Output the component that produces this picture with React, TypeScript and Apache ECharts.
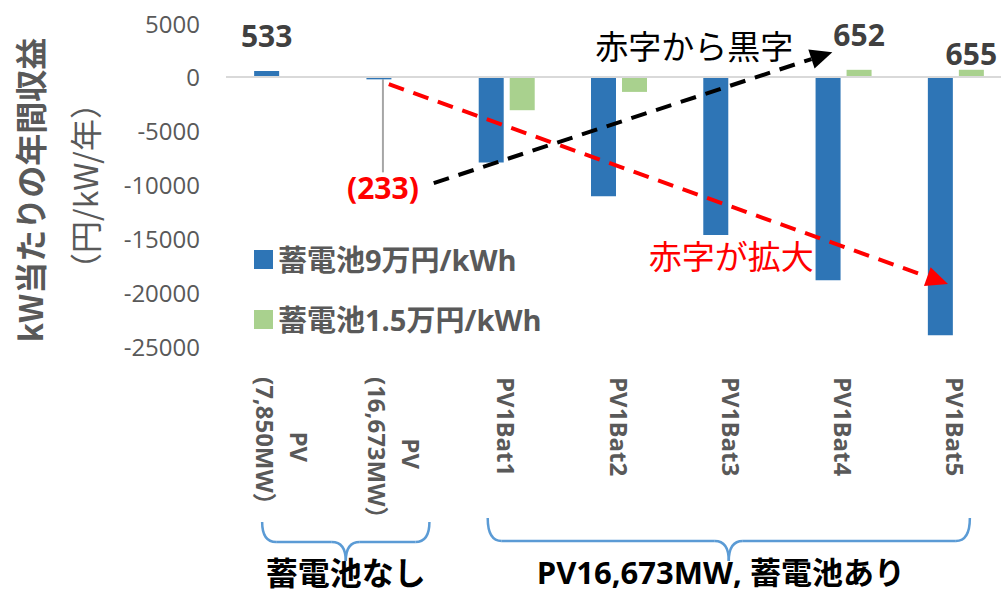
import React, { useEffect, useRef } from "react";
import * as echarts from "echarts";

// Scenario names along the category axis
const categories = [
  "PV\n(7,850MW）",
  "PV\n(16,673MW）",
  "PV1Bat1",
  "PV1Bat2",
  "PV1Bat3",
  "PV1Bat4",
  "PV1Bat5",
];
// Annual profit per kW (yen/kW/year)
const battery90k: (number | null)[] = [533, -233, -7950, -11100, -14700, -18900, -24000];
const battery15k: (number | null)[] = [null, null, -3100, -1400, 0, 652, 655];
const seriesNames = ["蓄電池9万円/kWh", "蓄電池1.5万円/kWh"];

const yMin = -25000;
const yMax = 5000;
const yStep = 5000;

const yTitleLines = ["kW当たりの年間収益", "（円/kW/年）"];
const groupTitles = ["蓄電池なし", "PV16,673MW, 蓄電池あり"];
const noteImprove = "赤字から黒字";
const noteWorsen = "赤字が拡大";

// Annotation anchors in data space: [category position, value]
const improveArrow = { from: [1.35, -9870], to: [4.9, 2290] };
const worsenArrow = { from: [0.95, -680], to: [5.93, -19250] };
const improveTextAt = [3.67, 2950];
const worsenTextAt = [4.0, -16550];

const FONT = "'Open Sans', 'Noto Sans CJK JP', sans-serif";
const CJK = "'Noto Sans CJK JP', 'Open Sans', sans-serif";
const BLUE = "#2E75B6";
const GREEN = "#A9D18E";
const GREY = "#595959";
const BRACE = "#5B9BD5";

function arrow(x1: number, y1: number, x2: number, y2: number, color: string, len: number, half: number) {
  const dx = x2 - x1;
  const dy = y2 - y1;
  const d = Math.hypot(dx, dy);
  const ux = dx / d;
  const uy = dy / d;
  const bx = x2 - ux * len;
  const by = y2 - uy * len;
  const nx = -uy;
  const ny = ux;
  return [
    {
      type: "line",
      silent: true,
      z: 100,
      shape: { x1, y1, x2: bx, y2: by },
      style: { stroke: color, lineWidth: 4, lineDash: [16, 10] },
    },
    {
      type: "polygon",
      silent: true,
      z: 100,
      shape: {
        points: [
          [x2, y2],
          [bx + nx * half, by + ny * half],
          [bx - nx * half, by - ny * half],
        ],
      },
      style: { fill: color },
    },
  ];
}

function brace(xl: number, xr: number, yTop: number, yMid: number, yTip: number, r: number) {
  const xc = (xl + xr) / 2;
  const st = { stroke: BRACE, lineWidth: 2.5, fill: "none" };
  return [
    { type: "bezierCurve", silent: true, shape: { x1: xl, y1: yTop, cpx1: xl, cpy1: yMid, x2: xl + r, y2: yMid }, style: st },
    { type: "line", silent: true, shape: { x1: xl + r, y1: yMid, x2: xc - r, y2: yMid }, style: st },
    { type: "bezierCurve", silent: true, shape: { x1: xc - r, y1: yMid, cpx1: xc, cpy1: yMid, x2: xc, y2: yTip }, style: st },
    { type: "bezierCurve", silent: true, shape: { x1: xc, y1: yTip, cpx1: xc, cpy1: yMid, x2: xc + r, y2: yMid }, style: st },
    { type: "line", silent: true, shape: { x1: xc + r, y1: yMid, x2: xr - r, y2: yMid }, style: st },
    { type: "bezierCurve", silent: true, shape: { x1: xr - r, y1: yMid, cpx1: xr, cpy1: yMid, x2: xr, y2: yTop }, style: st },
  ];
}

export default function App() {
  const ref = useRef<HTMLDivElement>(null);

  useEffect(() => {
    if (!ref.current) return;
    const chart = echarts.init(ref.current, null, { renderer: "svg" });

    const labelFmt = (p: any) => {
      const v = typeof p.value === "number" ? p.value : p.value?.value;
      return v < 0 ? `(${-v})` : String(v);
    };

    const data90 = battery90k.map((v, i) => {
      if (i === 0) return { value: v, label: { show: true, position: "top", distance: 21 } };
      if (i === 1)
        return {
          value: v,
          label: { show: true, position: "bottom", color: "#FF0000" },
          labelLine: { show: true, lineStyle: { color: "#A6A6A6", width: 2 } },
        };
      return v;
    });
    const data15 = battery15k.map((v, i) => {
      if (i === 5) return { value: v, label: { show: true, position: "top", distance: 20 } };
      if (i === 6) return { value: v, label: { show: true, position: "top", distance: 1 } };
      return v;
    });

    const barLabel = {
      show: false,
      fontFamily: FONT,
      fontWeight: "bold",
      fontSize: 30,
      color: "#404040",
      formatter: labelFmt,
    };

    chart.setOption({
      animation: false,
      grid: {
        left: 226,
        width: 786,
        top: 23,
        bottom: 247,
        containLabel: false,
        outerBoundsMode: "none",
      },
      legend: {
        orient: "vertical",
        left: 249,
        top: 240,
        itemWidth: 19,
        itemHeight: 19,
        itemGap: 31,
        icon: "rect",
        data: seriesNames,
        textStyle: { fontFamily: FONT, fontWeight: "bold", fontSize: 29, color: GREY },
      },
      xAxis: {
        type: "category",
        data: categories,
        axisLine: { show: false, onZero: false },
        axisTick: { show: false },
        axisLabel: {
          rotate: -90,
          margin: 31,
          interval: 0,
          fontFamily: FONT,
          fontWeight: "bold",
          fontSize: 24,
          color: GREY,
          lineHeight: 34,
          formatter: (v: string) =>
            v.includes("\n") ? v.split("\n").map((s) => `{c|${s}}`).join("\n") : v,
          rich: {
            c: { align: "center", fontFamily: FONT, fontWeight: "bold", fontSize: 24, color: GREY, lineHeight: 34 },
          },
        },
      },
      yAxis: {
        type: "value",
        min: yMin,
        max: yMax,
        interval: yStep,
        axisLine: { show: false },
        axisTick: { show: false },
        splitLine: { show: false },
        axisLabel: {
          margin: 26,
          fontFamily: FONT,
          fontSize: 24,
          color: GREY,
          formatter: (v: number) => String(v),
        },
      },
      series: [
        {
          name: seriesNames[0],
          type: "bar",
          data: data90,
          barWidth: 25,
          barGap: "24%",
          itemStyle: { color: BLUE },
          label: barLabel,
          labelLayout: (p: any) =>
            p.seriesIndex === 0 && p.dataIndex === 1
              ? {
                  x: p.rect.x + p.rect.width / 2 + 4,
                  y: p.rect.y + p.rect.height + 108,
                  align: "center",
                  verticalAlign: "middle",
                }
              : {},
          markLine: {
            silent: true,
            symbol: "none",
            label: { show: false },
            lineStyle: { color: "#D9D9D9", width: 2, type: "solid" },
            data: [{ yAxis: 0 }],
          },
        },
        {
          name: seriesNames[1],
          type: "bar",
          data: data15,
          barWidth: 25,
          barGap: "24%",
          itemStyle: { color: GREEN },
          label: barLabel,
        },
      ],
    });

    // Annotations placed from the chart's own scales
    const cx = (i: number) => chart.convertToPixel({ xAxisIndex: 0 }, i) as number;
    const cy = (v: number) => chart.convertToPixel({ yAxisIndex: 0 }, v) as number;
    const x0 = cx(0);
    const x6 = cx(6);
    const at = (p: number[]) => [x0 + ((x6 - x0) * p[0]) / 6, cy(p[1])];

    const a1 = at(improveArrow.from);
    const a2 = at(improveArrow.to);
    const r1 = at(worsenArrow.from);
    const r2 = at(worsenArrow.to);
    const t1 = at(improveTextAt);
    const t2 = at(worsenTextAt);

    const leftBrace = brace(cx(0) - 20, cx(1) + 35, 522, 542, 561, 14);
    const rightBrace = brace(cx(2) - 19, cx(6) + 14, 518, 541, 561, 14);
    const leftMid = (cx(0) - 20 + cx(1) + 35) / 2;
    const rightMid = (cx(2) - 19 + cx(6) + 14) / 2;

    chart.setOption({
      graphic: [
        {
          type: "text",
          silent: true,
          x: 29,
          y: 190,
          rotation: Math.PI / 2,
          style: {
            text: yTitleLines[0],
            fontFamily: CJK,
            fontWeight: "bold",
            fontSize: 32,
            fill: GREY,
            align: "center",
            verticalAlign: "middle",
          },
        },
        {
          type: "text",
          silent: true,
          x: 84,
          y: 186,
          rotation: Math.PI / 2,
          style: {
            text: yTitleLines[1],
            fontFamily: CJK,
            fontSize: 32,
            fill: GREY,
            align: "center",
            verticalAlign: "middle",
          },
        },
        ...arrow(a1[0], a1[1], a2[0], a2[1], "#000000", 22, 10),
        ...arrow(r1[0], r1[1], r2[0], r2[1], "#FF0000", 22, 10),
        {
          type: "text",
          silent: true,
          x: t1[0],
          y: t1[1],
          style: {
            text: noteImprove,
            fontFamily: CJK,
            fontSize: 33,
            fill: "#000000",
            align: "center",
            verticalAlign: "middle",
          },
        },
        {
          type: "text",
          silent: true,
          x: t2[0],
          y: t2[1],
          style: {
            text: noteWorsen,
            fontFamily: CJK,
            fontSize: 33,
            fill: "#FF0000",
            align: "center",
            verticalAlign: "middle",
          },
        },
        ...leftBrace,
        ...rightBrace,
        {
          type: "text",
          silent: true,
          x: leftMid,
          y: 571,
          style: {
            text: groupTitles[0],
            fontFamily: CJK,
            fontWeight: "bold",
            fontSize: 32,
            fill: "#000000",
            align: "center",
            verticalAlign: "middle",
          },
        },
        {
          type: "text",
          silent: true,
          x: rightMid - 8,
          y: 572,
          style: {
            text: groupTitles[1],
            fontFamily: FONT,
            fontWeight: "bold",
            fontSize: 31,
            fill: "#000000",
            align: "center",
            verticalAlign: "middle",
          },
        },
      ],
    });

    return () => chart.dispose();
  }, []);

  return (
    <div
      ref={ref}
      style={{ position: "fixed", left: 0, top: 0, width: 1001, height: 593, background: "#ffffff" }}
    />
  );
}
